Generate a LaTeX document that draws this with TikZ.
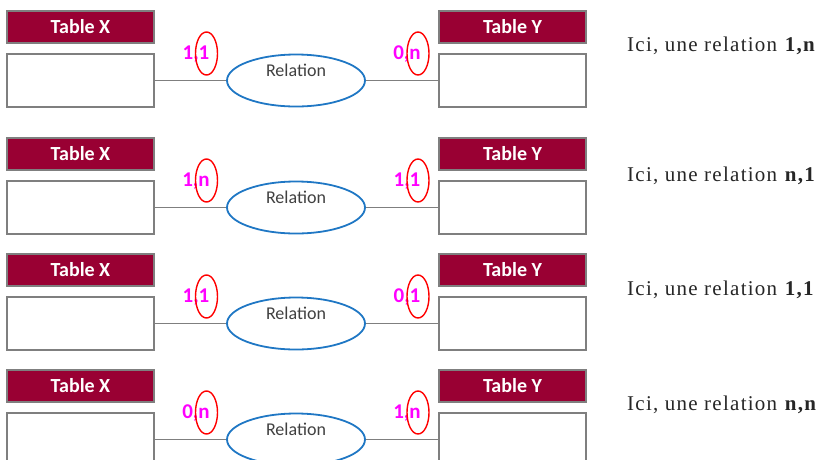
\documentclass[tikz,border=0pt]{standalone}
\usepackage{fontspec}
\setmainfont{Liberation Serif}
\newfontfamily\calib{Carlito}
\newfontfamily\garam[LetterSpace=6]{Liberation Serif}
\usetikzlibrary{shapes.geometric}
\definecolor{maroon}{RGB}{153,0,51}
\definecolor{bordergray}{RGB}{127,127,127}
\definecolor{relblue}{RGB}{31,119,196}
\definecolor{cardpink}{RGB}{255,0,255}
\definecolor{reltext}{RGB}{64,64,64}
\begin{document}
\begin{tikzpicture}[x=1pt,y=-1pt,
  header/.style={draw=bordergray, line width=1.5pt, fill=maroon, minimum width=147pt, minimum height=32pt, inner sep=0pt, text=white, font=\calib\bfseries\fontsize{20}{22}\selectfont},
  body/.style={draw=bordergray, line width=1.5pt, fill=white, minimum width=147pt, minimum height=53pt, inner sep=0pt},
  relation/.style={ellipse, draw=relblue, line width=1.8pt, minimum width=138pt, minimum height=52pt, inner sep=0pt},
  reltxt/.style={inner sep=0pt, text=reltext, font=\calib\fontsize{18}{20}\selectfont},
  conn/.style={draw=bordergray, line width=1.6pt},
  redoval/.style={ellipse, draw=red, line width=1.4pt, minimum width=22pt, minimum height=43pt, inner sep=0pt},
  card/.style={inner sep=0pt, text=cardpink, font=\calib\bfseries\fontsize{21}{22}\selectfont},
  note/.style={anchor=base west, inner sep=0pt, text=black!85, font=\garam\fontsize{21}{24}\selectfont}
]
\useasboundingbox (0,0) rectangle (830,459);
\clip (0,0) rectangle (830,459);
\foreach \i/\t/\bl/\la/\lb/\ra/\rb/\ta/\tb in {1/11/51/1/1/0/n/1/n, 2/138/181/1/n/1/1/n/1, 3/254/295/1/1/0/1/1/1, 4/370/410/0/n/1/n/n/n}{
  \node[header] (hx\i) at (80.5,\t+16) {Table X};
  \node[body] (bx\i) at (80.5,\t+69.5) {};
  \node[header] (hy\i) at (512.5,\t+16) {Table Y};
  \node[body] (by\i) at (512.5,\t+69.5) {};
  \node[relation] (rel\i) at (296,\t+69.5) {};
  \node[reltxt] (rt\i) at (296,\t+59.5) {Relation};
  \draw[conn] (bx\i.east) -- (rel\i.west);
  \draw[conn] (rel\i.east) -- (by\i.west);
  \node[card] (lc\i) at (196,\t+43) {\la,\lb};
  \node[card] (rc\i) at (407,\t+43) {\ra,\rb};
  \node[redoval] (le\i) at (206.5,\t+42.5) {};
  \node[redoval] (re\i) at (418,\t+42.5) {};
  \node[note] (tx\i) at (627,\bl) {Ici, une relation \textbf{\ta,\tb}};
}
\end{tikzpicture}
\end{document}
